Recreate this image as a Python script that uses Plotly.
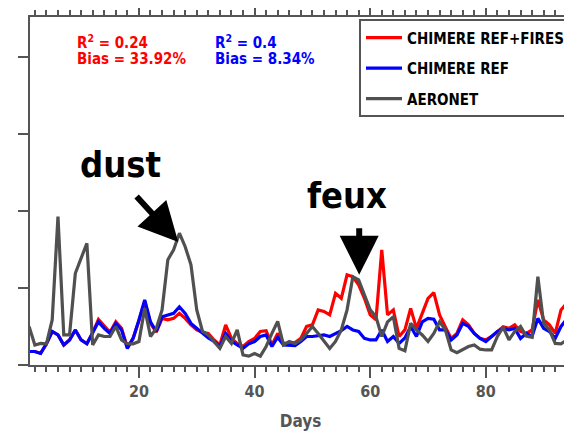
import plotly.graph_objects as go

days = list(range(1, 96))

# CHIMERE REF+FIRES
ref_fires = [
    0.035, 0.035, 0.030, 0.055, 0.087, 0.078, 0.052, 0.065, 0.091, 0.065,
    0.055, 0.084, 0.118, 0.100, 0.085, 0.112, 0.095, 0.045, 0.070, 0.115,
    0.165, 0.108, 0.085, 0.121, 0.117, 0.121, 0.134, 0.121, 0.104, 0.091,
    0.085, 0.082, 0.065, 0.052, 0.104, 0.069, 0.056, 0.048, 0.061, 0.069,
    0.087, 0.089, 0.052, 0.082, 0.056, 0.056, 0.058, 0.069, 0.100, 0.104,
    0.143, 0.139, 0.130, 0.186, 0.173, 0.234, 0.229, 0.208, 0.173, 0.130,
    0.117, 0.299, 0.130, 0.143, 0.074, 0.091, 0.147, 0.095, 0.134, 0.173,
    0.188, 0.130, 0.099, 0.069, 0.082, 0.117, 0.104, 0.082, 0.069, 0.065,
    0.074, 0.087, 0.099, 0.095, 0.104, 0.087, 0.082, 0.091, 0.169, 0.117,
    0.104, 0.082, 0.143, 0.160, 0.150,
]

# CHIMERE REF
ref = [
    0.035, 0.035, 0.030, 0.055, 0.087, 0.078, 0.052, 0.065, 0.091, 0.065,
    0.055, 0.082, 0.112, 0.095, 0.082, 0.108, 0.091, 0.043, 0.069, 0.117,
    0.169, 0.112, 0.087, 0.125, 0.130, 0.134, 0.151, 0.134, 0.108, 0.095,
    0.082, 0.070, 0.061, 0.048, 0.082, 0.062, 0.052, 0.043, 0.055, 0.061,
    0.074, 0.078, 0.048, 0.072, 0.052, 0.052, 0.050, 0.061, 0.074, 0.074,
    0.076, 0.078, 0.074, 0.082, 0.089, 0.100, 0.091, 0.087, 0.069, 0.065,
    0.065, 0.091, 0.061, 0.074, 0.056, 0.070, 0.100, 0.074, 0.112, 0.121,
    0.119, 0.091, 0.091, 0.065, 0.078, 0.108, 0.100, 0.082, 0.069, 0.061,
    0.073, 0.087, 0.095, 0.091, 0.095, 0.069, 0.082, 0.074, 0.121, 0.095,
    0.087, 0.069, 0.100, 0.119, 0.117,
]

# AERONET
aeronet = [
    0.100, 0.052, 0.056, 0.055, 0.117, 0.385, 0.078, 0.078, 0.238, 0.277,
    0.316, 0.052, 0.078, 0.074, 0.074, 0.100, 0.065, 0.055, 0.055, 0.061,
    0.147, 0.074, 0.095, 0.143, 0.273, 0.299, 0.342, 0.307, 0.260, 0.143,
    0.087, 0.078, 0.061, 0.043, 0.074, 0.056, 0.091, 0.026, 0.023, 0.030,
    0.023, 0.048, 0.082, 0.113, 0.052, 0.061, 0.056, 0.065, 0.082, 0.100,
    0.082, 0.061, 0.043, 0.061, 0.091, 0.143, 0.229, 0.221, 0.182, 0.143,
    0.125, 0.074, 0.112, 0.125, 0.043, 0.037, 0.108, 0.091, 0.078, 0.061,
    0.082, 0.112, 0.091, 0.039, 0.032, 0.039, 0.048, 0.052, 0.041, 0.039,
    0.039, 0.074, 0.098, 0.065, 0.087, 0.100, 0.075, 0.072, 0.229, 0.108,
    0.091, 0.056, 0.055, 0.065, 0.182,
]

FONT = "DejaVu Sans Condensed, DejaVu Sans, sans-serif"
AXIS_GREY = "#555555"


def bold(size, color):
    return dict(size=size, color=color, family=FONT, weight="bold")


fig = go.Figure()
series = [("CHIMERE REF+FIRES", ref_fires, "#ff0000"),
          ("CHIMERE REF", ref, "#0000ff"),
          ("AERONET", aeronet, "#505050")]
for name, vals, colour in series:
    fig.add_trace(go.Scatter(x=days, y=vals, mode="lines", name=name, legendgroup=name,
                             line=dict(color=colour, width=3.2)))

# the page body adds an 8px margin all round, so keep the figure inside the
# window and shift the margins to compensate
fig.update_layout(
    width=564, height=423,
    margin=dict(l=22, r=1, t=9, b=66),
    plot_bgcolor="white", paper_bgcolor="white",
    font=dict(family=FONT, weight="bold"),
    legend=dict(x=1, y=0.993, xanchor="right", yanchor="top",
                bgcolor="white", bordercolor=AXIS_GREY, borderwidth=2,
                font=bold(15, "black"), itemwidth=36, tracegroupgap=8),
)

fig.update_xaxes(
    range=[1.16, 94.73], showgrid=False, zeroline=False, automargin=False,
    showline=True, linecolor=AXIS_GREY, linewidth=2, mirror="allticks",
    ticks="outside", ticklen=11, tickwidth=2, tickcolor=AXIS_GREY,
    tickvals=[20, 40, 60, 80], tickfont=bold(16, AXIS_GREY),
    minor=dict(dtick=2, tick0=0, ticks="outside", ticklen=5, tickwidth=2,
               tickcolor=AXIS_GREY, showgrid=False),
    title=dict(text="Days", font=bold(17, AXIS_GREY), standoff=20),
)
fig.update_yaxes(
    range=[0, 0.903], showgrid=False, zeroline=False, automargin=False,
    showline=True, linecolor=AXIS_GREY, linewidth=2,
    ticks="outside", ticklen=10, tickwidth=2, tickcolor=AXIS_GREY,
    tickvals=[0, 0.2, 0.4, 0.6, 0.8], showticklabels=False,
)

# statistics, one annotation per line to keep the tight line spacing
stats = [(0.083, "#ff0000", ["R<sup>2</sup> = 0.24", "Bias = 33.92%"]),
         (0.338, "#0000ff", ["R<sup>2</sup> = 0.4", "Bias = 8.34%"])]
for xpos, colour, lines in stats:
    for i, txt in enumerate(lines):
        fig.add_annotation(xref="paper", yref="paper", x=xpos, y=0.928 - i * 0.05,
                           xanchor="left", yanchor="middle", text=txt, showarrow=False,
                           font=bold(15, colour))

fig.add_annotation(xref="paper", yref="paper", x=0.168, y=0.575, text="dust",
                   xanchor="center", yanchor="middle", showarrow=False,
                   font=bold(36, "black"))
fig.add_annotation(xref="paper", yref="paper", x=0.586, y=0.486, text="feux",
                   xanchor="center", yanchor="middle", showarrow=False,
                   font=bold(36, "black"))

fig.add_annotation(x=26.8, y=0.319, text="", showarrow=True, ax=-43, ay=-47,
                   arrowhead=2, arrowsize=1.3, arrowwidth=6, arrowcolor="black", standoff=0)
fig.add_annotation(x=58.1, y=0.234, text="", showarrow=True, ax=0, ay=-48,
                   arrowhead=2, arrowsize=1.3, arrowwidth=6, arrowcolor="black", standoff=0)

fig.write_html("out.html")
